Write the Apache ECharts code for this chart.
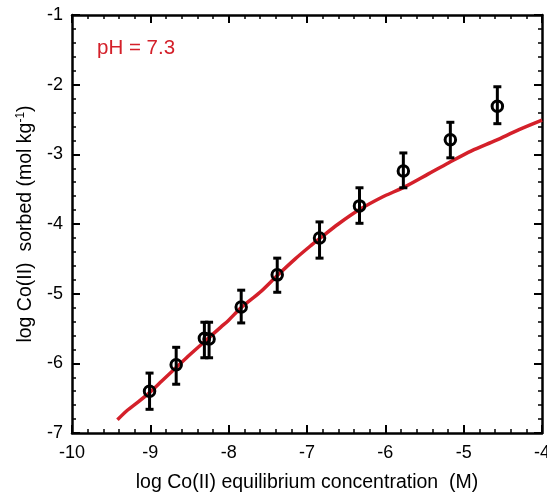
<!DOCTYPE html>
<html>
<head>
<meta charset="utf-8">
<script src="https://cdn.jsdelivr.net/npm/echarts@6/dist/echarts.min.js"></script>
<style>
  html, body { margin: 0; padding: 0; background: #fff; }
  #chart { width: 547px; height: 492px; }
</style>
</head>
<body>
<div id="chart"></div>
<script>
// measured points: log concentration, log sorbed, error bar low / high
const logConc   = [-9.01, -8.67, -8.31, -8.25, -7.84, -7.38, -6.84, -6.33, -5.77, -5.17, -4.57];
const logSorbed = [-6.40, -6.02, -5.64, -5.65, -5.19, -4.73, -4.20, -3.74, -3.24, -2.79, -2.31];
const errLow    = [-6.66, -6.30, -5.92, -5.92, -5.42, -4.98, -4.49, -3.99, -3.48, -3.05, -2.56];
const errHigh   = [-6.14, -5.77, -5.41, -5.41, -4.95, -4.49, -3.97, -3.48, -2.98, -2.54, -2.03];

// model curve
const curveX = [-9.42, -9.3, -9.15, -9.0, -8.85, -8.66, -8.5, -8.28, -8.1, -8.0, -7.84, -7.6, -7.38,
  -7.15, -6.94, -6.84, -6.6, -6.34, -6.05, -5.76, -5.45, -5.19, -4.9, -4.59, -4.3, -4.0];
const curveY = [-6.81, -6.68, -6.55, -6.41, -6.25, -6.05, -5.88, -5.66, -5.48, -5.38, -5.2, -4.98, -4.74,
  -4.5, -4.3, -4.21, -4.0, -3.8, -3.62, -3.47, -3.28, -3.12, -2.95, -2.8, -2.65, -2.51];

const red = '#d4202a';
const font = 'Liberation Sans';

const chart = echarts.init(document.getElementById('chart'));

// fresh copy of the shared axis styling for each axis
function frameAxis(extra) {
  return Object.assign({
    type: 'value',
    interval: 1,
    axisLine: { show: true, onZero: false, lineStyle: { color: '#000', width: 2.5 } },
    axisTick: { show: true, inside: true, length: 8, lineStyle: { color: '#000', width: 2 } },
    minorTick: { show: true, splitNumber: 5, length: 4, lineStyle: { color: '#000', width: 1.5 } },
    splitLine: { show: false }
  }, extra);
}

const option = {
  animation: false,
  grid: { left: 72, top: 15, right: 5, bottom: 59, outerBoundsMode: 'none' },
  xAxis: [
    frameAxis({
      min: -10, max: -4, position: 'bottom',
      axisLabel: { color: '#000', fontSize: 18, fontFamily: font, margin: 11 },
      name: 'log Co(II) equilibrium concentration  (M)',
      nameLocation: 'middle', nameGap: 40,
      nameTextStyle: { color: '#000', fontSize: 19.5, fontFamily: font }
    }),
    frameAxis({
      min: -10, max: -4, position: 'top',
      axisLabel: { show: false }
    })
  ],
  yAxis: [
    frameAxis({
      min: -7, max: -1, position: 'left',
      axisLabel: { color: '#000', fontSize: 18, fontFamily: font, margin: 9 },
      name: 'log Co(II)  sorbed (mol kg{sup|-1})',
      nameLocation: 'middle', nameGap: 30,
      nameTextStyle: {
        color: '#000', fontSize: 19.5, fontFamily: font,
        rich: { sup: { fontSize: 12, fontFamily: font, color: '#000', padding: [0, 0, 10, 0] } }
      }
    }),
    frameAxis({
      min: -7, max: -1, position: 'right',
      axisLabel: { show: false }
    })
  ],
  graphic: [{
    type: 'text', left: 97, top: 38, z: 100,
    style: { text: 'pH = 7.3', fill: red, fontSize: 20.5, fontFamily: font }
  }],
  series: [
    {
      type: 'line',
      data: curveX.map((x, i) => [x, curveY[i]]),
      smooth: 0.3,
      showSymbol: false,
      lineStyle: { color: red, width: 3.5 },
      z: 2
    },
    {
      type: 'custom',
      data: logConc.map((x, i) => [x, errLow[i], errHigh[i]]),
      renderItem: function (params, api) {
        const lo = api.coord([api.value(0), api.value(1)]);
        const hi = api.coord([api.value(0), api.value(2)]);
        const w = 4;
        const st = { stroke: '#000', lineWidth: 3 };
        return {
          type: 'group',
          children: [
            { type: 'line', shape: { x1: lo[0], y1: lo[1], x2: hi[0], y2: hi[1] }, style: st },
            { type: 'line', shape: { x1: lo[0] - w, y1: lo[1], x2: lo[0] + w, y2: lo[1] }, style: st },
            { type: 'line', shape: { x1: hi[0] - w, y1: hi[1], x2: hi[0] + w, y2: hi[1] }, style: st }
          ]
        };
      },
      z: 3
    },
    {
      type: 'scatter',
      data: logConc.map((x, i) => [x, logSorbed[i]]),
      symbol: 'circle',
      symbolSize: 10.5,
      itemStyle: { color: 'rgba(0,0,0,0)', borderColor: '#000', borderWidth: 3, opacity: 1 },
      z: 4
    }
  ]
};

chart.setOption(option);
</script>
</body>
</html>
